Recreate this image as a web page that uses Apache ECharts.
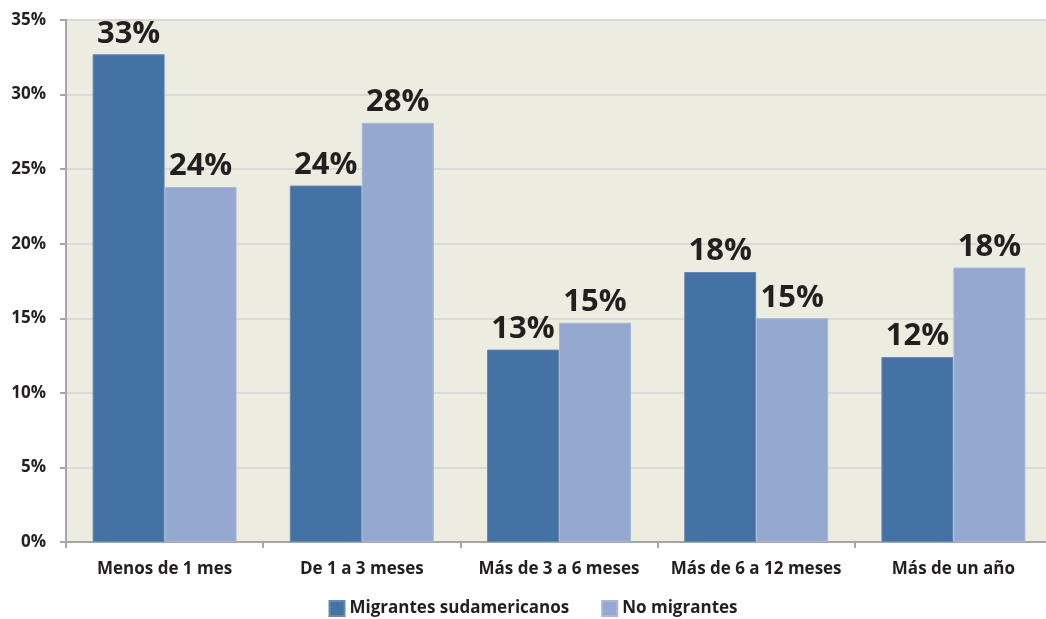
<!DOCTYPE html>
<html>
<head>
<meta charset="utf-8">
<script src="https://cdn.jsdelivr.net/npm/echarts@6/dist/echarts.min.js"></script>
<style>
  html, body { margin: 0; padding: 0; background: #ffffff; overflow: hidden; }
  #chart { width: 1066px; height: 619px; }
</style>
</head>
<body>
<div id="chart"></div>
<script>
// Tiempo de búsqueda de empleo, por grupo
const categories = ['Menos de 1 mes', 'De 1 a 3 meses', 'Más de 3 a 6 meses', 'Más de 6 a 12 meses', 'Más de un año'];
const migrantes = [32.7, 23.9, 12.9, 18.1, 12.4];
const noMigrantes = [23.8, 28.1, 14.7, 15.0, 18.4];
const seriesNames = ['Migrantes sudamericanos', 'No migrantes'];

const FONT = '"Open Sans", "Noto Sans", sans-serif';
const TEXT = '#231f20';

const labelStyle = {
  show: true,
  position: 'top',
  distance: 5,
  fontFamily: FONT,
  fontWeight: 'bold',
  fontSize: 31,
  color: TEXT,
  formatter: p => Math.round(p.value) + '%'
};

const chart = echarts.init(document.getElementById('chart'), null, { renderer: 'canvas' });
chart.setOption({
  animation: false,
  backgroundColor: '#ffffff',
  grid: {
    left: 66, right: 14, top: 20, bottom: 77,
    show: true, backgroundColor: '#ecece0', borderWidth: 0
  },
  legend: {
    bottom: -3,
    left: 'center',
    itemWidth: 15, itemHeight: 15, itemGap: 32,
    icon: 'rect',
    textStyle: { fontFamily: FONT, fontWeight: 'bold', fontSize: 17, color: TEXT },
    data: seriesNames
  },
  xAxis: {
    type: 'category',
    data: categories,
    axisLine: { lineStyle: { color: '#a6a6a6', width: 2 } },
    axisTick: { show: true, length: 6, lineStyle: { color: '#a6a6a6', width: 2 } },
    axisLabel: { interval: 0, margin: 19, fontFamily: FONT, fontWeight: 'bold', fontSize: 17, color: TEXT }
  },
  yAxis: {
    type: 'value',
    min: 0, max: 35, interval: 5,
    axisLine: { show: true, lineStyle: { color: '#a6a6a6', width: 2 } },
    axisTick: { show: true, length: 6, lineStyle: { color: '#a6a6a6', width: 2 } },
    splitLine: { lineStyle: { color: '#d9d9d9', width: 2 } },
    axisLabel: { margin: 20, fontFamily: FONT, fontWeight: 'bold', fontSize: 17, color: TEXT, formatter: '{value}%' }
  },
  series: [
    {
      name: seriesNames[0], type: 'bar', data: migrantes,
      barGap: '0%', barCategoryGap: '27%',
      itemStyle: { color: '#4572a5', borderColor: '#6688b3', borderWidth: 1 },
      label: labelStyle
    },
    {
      name: seriesNames[1], type: 'bar', data: noMigrantes,
      itemStyle: { color: '#94a8d0', borderColor: '#a6b7d8', borderWidth: 1 },
      label: labelStyle
    }
  ]
});
</script>
</body>
</html>
